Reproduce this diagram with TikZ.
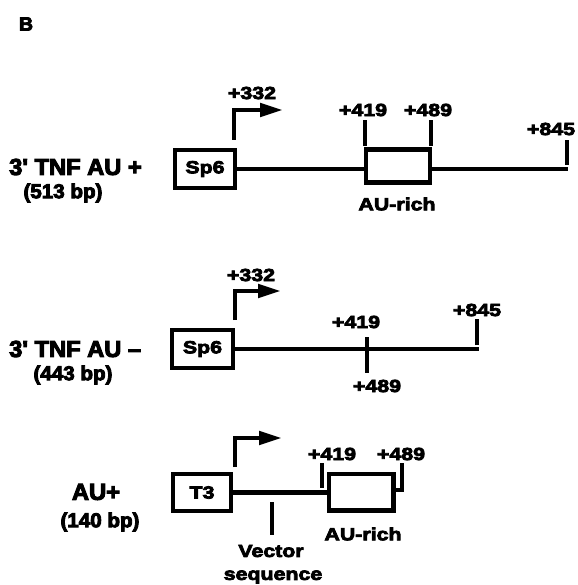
\documentclass[tikz,border=0pt]{standalone}
\usepackage{fontspec}
\usetikzlibrary{arrows.meta}
\newfontfamily\bigf{Liberation Sans Bold}[FakeStretch=1.03,FakeBold=4.5]
\newfontfamily\smallf{Liberation Sans Bold}[FakeStretch=1.22,FakeBold=4.5]
\tikzset{
  bigt/.style={font=\bigf\fontsize{23}{23}\selectfont, inner sep=0pt},
  midt/.style={font=\bigf\fontsize{20}{20}\selectfont, inner sep=0pt},
  smallt/.style={font=\smallf\fontsize{17.5}{17.5}\selectfont, inner sep=0pt},
  gbox/.style={draw, line width=4.5pt, inner sep=0pt, font=\smallf\fontsize{17.5}{17.5}\selectfont},
  seg/.style={line width=4.5pt},
  promo/.style={line width=4.6pt, -{Triangle[length=23pt,width=13pt]}},
}
\begin{document}
\begin{tikzpicture}[x=1pt,y=-1pt]
\useasboundingbox (0,0) rectangle (577,585);

\node[font=\bigf\fontsize{19}{19}\selectfont, inner sep=0pt] (B) at (26,24) {B};

% ---------- row 1 ----------
\node[bigt, anchor=west] (l1) at (9,167) {3' TNF AU +};
\node[midt] (bp1) at (63,193) {(513 bp)};
\node[gbox, minimum width=60pt, minimum height=38pt] (sp1) at (205,169) {Sp6};
\node[draw, line width=4.5pt, minimum width=64pt, minimum height=33pt, inner sep=0pt] (au1) at (398,166) {};
\coordinate (e1) at (568,169);
\draw[seg] (sp1.east) -- (sp1.east -| au1.west);
\draw[seg] (sp1.east -| au1.east) -- (e1);
\coordinate (a1s) at (234,140);
\coordinate (a1e) at (283,110);
\draw[promo] (a1s) |- (a1e);
\node[smallt] (p1) at (252,93) {+332};
\coordinate (t1a) at (365,146);
\coordinate (t1b) at (431,146);
\draw[seg] (t1a) -- ++(0,-26);
\draw[seg] (t1b) -- ++(0,-26);
\node[smallt] (n419a) at (363,110) {+419};
\node[smallt] (n489a) at (428,110) {+489};
\coordinate (k1) at (567,165);
\draw[seg] (k1) -- ++(0,-25);
\node[smallt] (n845a) at (551,129) {+845};
\node[smallt] (aur1) at (397,204) {AU-rich};

% ---------- row 2 ----------
\node[bigt, anchor=west] (l2) at (9,349) {3' TNF AU \textendash};
\node[midt] (bp2) at (73,375) {(443 bp)};
\node[gbox, minimum width=61pt, minimum height=38pt] (sp2) at (202.5,349) {Sp6};
\coordinate (e2) at (479,349);
\draw[seg] (sp2.east) -- (e2);
\coordinate (a2s) at (235,320);
\coordinate (a2e) at (281,291);
\draw[promo] (a2s) |- (a2e);
\node[smallt] (p2) at (251,275) {+332};
\coordinate (c2a) at (367,337);
\coordinate (c2b) at (367,373);
\draw[seg] (c2a) -- (c2b);
\node[smallt] (n419b) at (356,322) {+419};
\node[smallt] (n489b) at (377,386) {+489};
\coordinate (k2) at (477,345);
\draw[seg] (k2) -- ++(0,-26);
\node[smallt] (n845b) at (477,310) {+845};

% ---------- row 3 ----------
\node[bigt] (l3) at (96,492) {AU+};
\node[midt] (bp3) at (100,522) {(140 bp)};
\node[gbox, minimum width=58pt, minimum height=37pt] (t3) at (202,492.5) {T3};
\node[draw, line width=4.5pt, minimum width=64.5pt, minimum height=36.5pt, inner sep=0pt] (au3) at (361,492) {};
\draw[seg] (t3.east) -- (t3.east -| au3.west);
\coordinate (a3s) at (235,467);
\coordinate (a3e) at (282,438);
\draw[promo] (a3s) |- (a3e);
\coordinate (v1) at (272,502);
\draw[seg] (v1) -- ++(0,33);
\node[smallt] (vec) at (271,551) {Vector};
\node[smallt] (seq) at (273,577) {sequence};
\coordinate (q1) at (322,463);
\draw[seg] (q1) -- ++(0,25);
\coordinate (q2) at (402,463);
\draw[seg] (q2) |- (au3.east |- 0,490);
\node[smallt] (n419c) at (332,454) {+419};
\node[smallt] (n489c) at (401,454) {+489};
\node[smallt] (aur3) at (363,534) {AU-rich};
\end{tikzpicture}
\end{document}
